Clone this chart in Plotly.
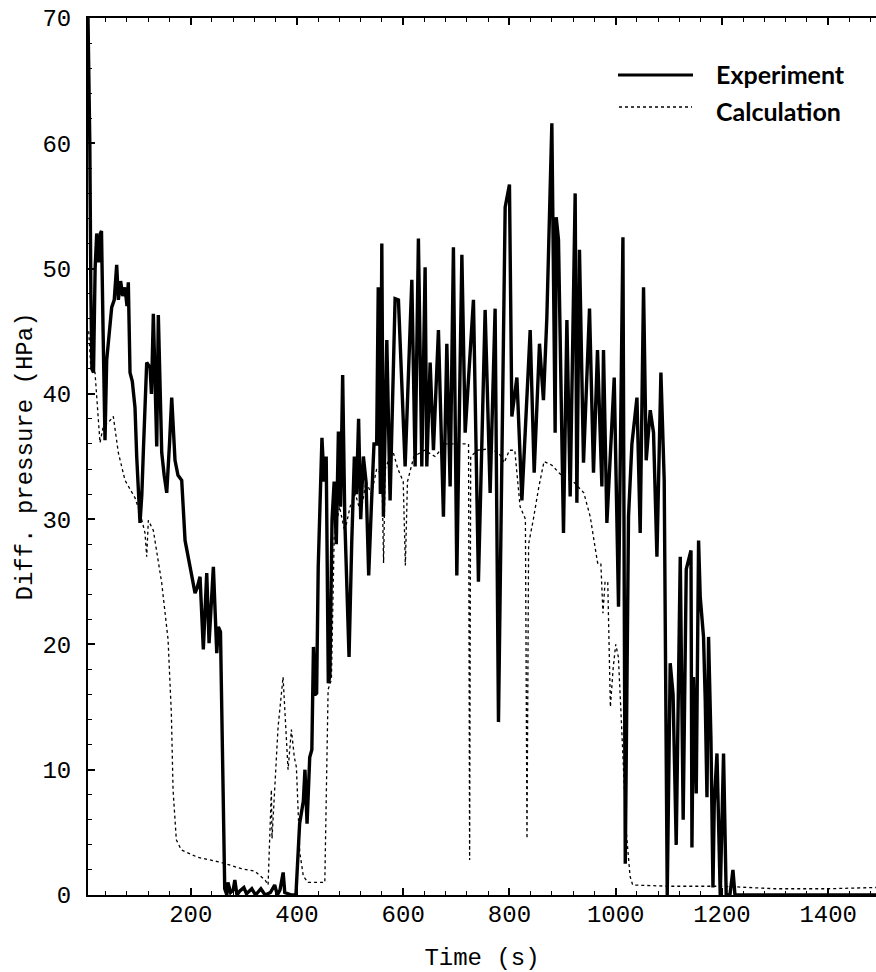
import plotly.graph_objects as go

# ---------------- data ----------------
exp_time = [6.6, 8, 10, 12, 14, 17, 20, 23, 27, 30, 32, 35, 38.6, 41.8, 47, 51.2, 56, 60.6, 63.7, 68,
            72, 76.3, 80, 82.5, 85.7, 90, 95.1, 98.3, 104.5, 108, 110.7, 117.1, 123.4, 126, 129.6, 132,
            136, 139, 145.4, 150, 154.8, 160, 164.2, 170.4, 176, 183, 189.3, 198.7, 208.1, 212, 217.5,
            223.7, 230.1, 234.5, 242.6, 249, 252, 256, 264, 268, 270, 275, 280, 283, 287, 292, 300, 305,
            315, 322, 332, 340, 350, 358, 363, 368, 374, 377, 383, 390, 398, 405, 412, 415, 419, 424,
            428, 431, 434, 437, 440, 443.5, 447, 451, 455, 459, 462, 466, 470, 474, 478, 482, 486, 490,
            494, 498, 503, 508, 512, 516, 520, 525, 530, 535, 540, 545, 550, 553, 557, 559.7, 562.7,
            569.1, 575.3, 584.7, 591, 603.6, 616.2, 622.4, 628.6, 635, 641.2, 644.4, 650.7, 656.9, 666.3,
            675.7, 682.1, 688.3, 694.5, 700.9, 710.4, 716.6, 732.2, 741.6, 754.2, 763.6, 773, 779.3,
            791.9, 800, 804.5, 814, 823.4, 839, 846.5, 856.5, 864, 870.4, 879.8, 886, 888, 892.3, 901.7,
            908.1, 914.3, 923.7, 926.9, 931.8, 939.4, 950.7, 958.2, 965.7, 974, 977, 983.4, 989.6,
            997.2, 1005.3, 1013.6, 1016, 1018, 1024.1, 1030.5, 1040, 1046.1, 1052.4, 1057.4, 1065,
            1071.2, 1077.6, 1085.1, 1091.3, 1097, 1102.6, 1108, 1113.9, 1121.5, 1127, 1132.8, 1141.7,
            1143.5, 1146.5, 1151.6, 1156, 1159.1, 1165.3, 1168.5, 1171.8, 1174.8, 1179.3, 1183.1,
            1185.5, 1190.6, 1196.8, 1203, 1208, 1215, 1220.7, 1224.5, 1300, 1400, 1490]
exp_pressure = [70, 66, 60, 48, 42, 41.7, 50, 52.8, 50.5, 52.8, 53, 45, 36.3, 42.7, 45, 46.9, 47.5, 50.3,
                47.5, 49, 47.8, 48.5, 47, 48.9, 41.7, 41, 38.9, 35, 29.7, 32, 35.3, 42.5, 42.1, 40,
                46.4, 43, 35.8, 46.3, 35.3, 33.5, 32.1, 36, 39.7, 34.7, 33.5, 33.1, 28.3, 26.2, 24.1,
                24.5, 25.4, 19.6, 25.7, 20.1, 26.2, 19.3, 21.4, 21, 0.5, 0, 1, 0.2, 0.4, 1.2, 0, 0.3,
                0.6, 0.1, 0.5, 0, 0.5, 0, 0.2, 0.8, 0, 0.4, 1.8, 0.2, 0.1, 0, 0, 5.7, 7.5, 10, 5.7, 11,
                11.6, 19.8, 16, 16.1, 26.2, 31.5, 36.5, 33, 35, 16.9, 17.5, 30, 33, 28, 37, 31, 41.5, 30,
                25, 19, 28, 35, 32, 38, 30, 35, 33, 25.5, 31, 36, 36, 48.5, 32, 52, 30.2,
                44.3, 31.5, 47.6, 47.5, 34.2, 49.1, 34.2, 52.4, 34.2, 50.1, 34.2, 42.5, 35.5, 45.1,
                30.2, 44, 32.6, 51.7, 25.5, 51.1, 36.9, 47.5, 25, 46.7, 32.1, 46.8, 13.8,
                54.9, 56.7, 38.2, 41.3, 31.5, 45.1, 33.7, 44, 39.5, 46.1, 61.6, 36.9, 54.1, 52.3, 28.9,
                45.9, 31.8, 56, 31.3, 51.5, 34.5, 46.8, 33.7, 43.5, 32.6, 43.5, 29.7, 35,
                41.3, 23, 52.5, 25, 2.5, 30.2, 36, 39.7, 28.9, 48.5, 34.7, 38.7,
                36.9, 27, 41.7, 33.1, 0, 18.5, 16, 4, 27, 6, 26, 27.5,
                3.8, 17.4, 8.1, 28.3, 23.8, 20.6, 15.6, 7.8, 20.6, 12.4, 0.6,
                7.3, 11.3, 0, 11.3, 0, 0, 2, 0, 0, 0, 0]

calc_time = [8, 12, 19.8, 29.2, 35.4, 44.8, 54.2, 63.7, 76.3, 95.1, 104.5, 113.9, 117.1, 120.2, 129.6,
             145.4, 157.3, 163.5, 166.7, 172.9, 182.3, 213.7, 257.6, 295.3, 320.5, 340, 345.6, 351.8,
             353, 355, 364.4, 373.8, 379, 383.2, 389.5, 395, 398.9, 405.3, 412, 420.9, 452.4, 458.6,
             464.8, 470, 480, 490, 500, 510, 520, 530, 540, 550, 560, 563, 566, 580, 590, 600, 604,
             608, 620, 640, 660, 680, 700, 723, 725, 727, 740, 760, 780, 790, 800, 810, 820, 830, 833,
             836, 845, 855, 865, 880, 900, 920, 940, 952, 961, 966, 972, 976, 980, 985, 990, 995, 1000,
             1005, 1010, 1015, 1020, 1027, 1032, 1100, 1200, 1300, 1400, 1490]
calc_pressure = [45, 42, 41.7, 36.1, 37.4, 37.7, 38.2, 35.3, 33.1, 31.7, 30.5, 28.9, 27, 29.9, 29.1,
                 24.9, 20.4, 14.5, 8.4, 4.4, 3.6, 3.0, 2.6, 2.1, 1.9, 1.2, 0.8, 8.4,
                 4.5, 6, 13.4, 17.4, 13, 10, 13.2, 11, 10.2, 3.4, 1.5, 1, 1, 16.4,
                 17.2, 28.5, 31, 29, 31, 32, 30.5, 33, 32, 34, 33.5, 26.5, 34, 35.5, 34, 33, 26.3,
                 33, 35, 35.5, 35, 36, 36, 36, 2.8, 35, 35.5, 35.6, 35.3, 34.5, 35.5, 35.5, 31, 30, 4.5,
                 28, 30, 32.5, 34.6, 34.3, 33.4, 33, 32.1, 30.2, 27.8, 26.5, 26.5, 22.5, 25, 25, 15, 18, 20,
                 19, 14.5, 10, 5, 1.5, 0.8, 0.7, 0.7, 0.5, 0.5, 0.6]

series_names = ["Experiment", "Calculation"]
x_tick_values = [200, 400, 600, 800, 1000, 1200, 1400]
y_tick_values = [0, 10, 20, 30, 40, 50, 60, 70]
x_title = "Time (s)"
y_title = "Diff. pressure (HPa)"

# ---------------- figure ----------------
MONO = "Liberation Mono, Courier New, monospace"
fig = go.Figure()
fig.add_trace(go.Scatter(x=exp_time, y=exp_pressure, mode="lines", name=series_names[0],
                         line=dict(color="black", width=3.4), showlegend=False))
fig.add_trace(go.Scatter(x=calc_time, y=calc_pressure, mode="lines", name=series_names[1],
                         line=dict(color="black", width=1.3, dash="dot"), showlegend=False))

axis_common = dict(showgrid=False, zeroline=False, showline=True, linecolor="black", linewidth=2,
                   ticks="inside", tickcolor="black", tickwidth=1.5, ticklen=7,
                   tickfont=dict(family=MONO, size=24, color="black"))

fig.update_xaxes(range=[6.6, 1490], tickvals=x_tick_values, mirror="ticks", ticklabelstandoff=-4,
                 minor=dict(dtick=40, tick0=0, ticks="inside", ticklen=4, tickcolor="black", tickwidth=1),
                 title=dict(text=x_title, font=dict(family=MONO, size=24, color="black"), standoff=22),
                 **axis_common)
fig.update_yaxes(range=[0, 70], tickvals=y_tick_values, mirror=False, ticklabelstandoff=10,
                 minor=dict(dtick=2, tick0=0, ticks="inside", ticklen=4, tickcolor="black", tickwidth=1),
                 title=dict(text=y_title, font=dict(family=MONO, size=24, color="black"), standoff=3),
                 **axis_common)

# legend drawn in the upper right, as in the reference
def px_x(p):
    return (p - 88) / 788.0

def px_y(p):
    return (895 - p) / 877.0

fig.add_shape(type="line", xref="paper", yref="paper", x0=px_x(618), x1=px_x(693), y0=px_y(75), y1=px_y(75),
              line=dict(color="black", width=3))
fig.add_shape(type="line", xref="paper", yref="paper", x0=px_x(619), x1=px_x(692), y0=px_y(107), y1=px_y(107),
              line=dict(color="black", width=1.3, dash="dot"))
for name, py in zip(series_names, [74, 111]):
    fig.add_annotation(x=px_x(714), y=px_y(py), xref="paper", yref="paper", text="<b>" + name + "</b>",
                       showarrow=False, xanchor="left", yanchor="middle",
                       font=dict(family="Lato, Open Sans, sans-serif", size=25, color="black"))

fig.update_layout(width=876, height=972, margin=dict(l=88, r=0, t=18, b=77),
                  plot_bgcolor="white", paper_bgcolor="white")

fig.write_html("out.html", config={"displayModeBar": False})
